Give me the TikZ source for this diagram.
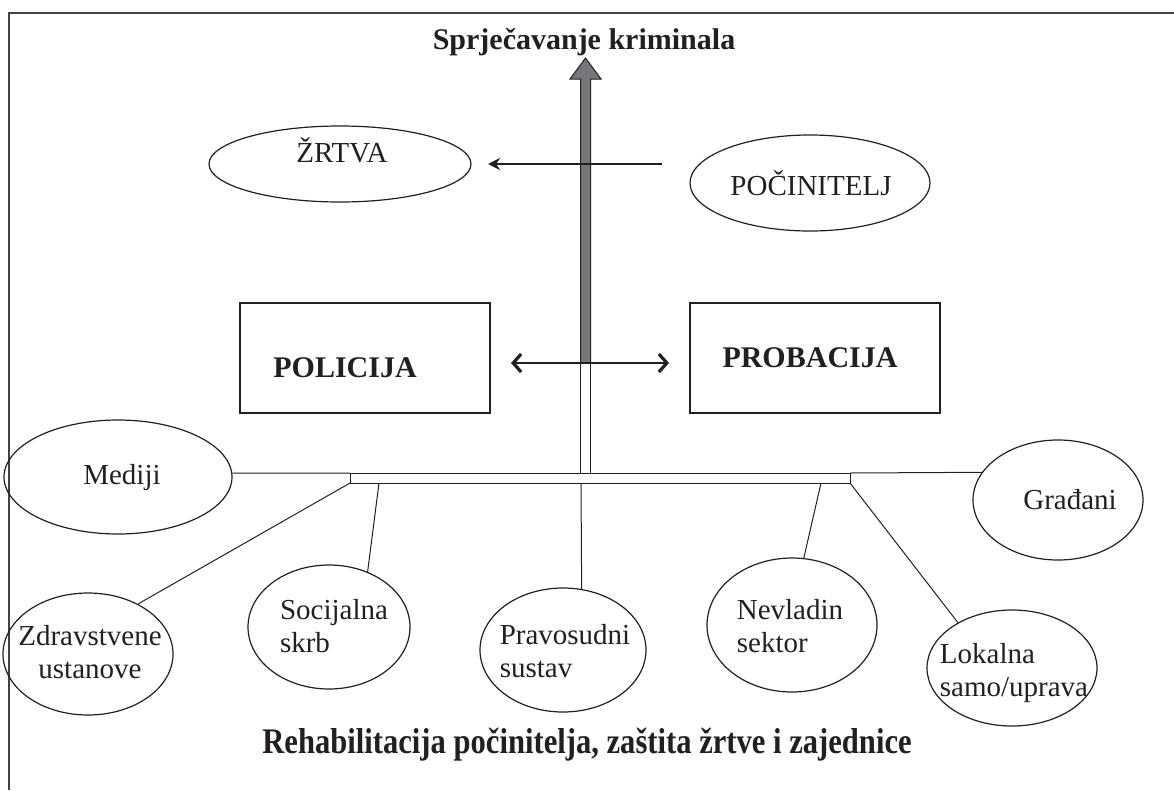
\documentclass[tikz,border=0pt]{standalone}
\usepackage{fontspec}
\setmainfont{Liberation Serif}
\usetikzlibrary{shapes.geometric,arrows.meta}
\definecolor{shaftgray}{RGB}{118,119,123}
\definecolor{ink}{RGB}{35,31,32}
\tikzset{
  ell/.style={draw=ink,line width=1.2pt,ellipse,inner sep=0pt},
  rbox/.style={draw=ink,line width=1.2pt,rectangle,inner sep=0pt},
  lbl/.style={font=\fontsize{29}{33}\selectfont,text=ink,align=left},
  blbl/.style={font=\fontsize{30}{34}\selectfont\bfseries,text=ink},
  conn/.style={draw=ink,line width=1pt},
}
\begin{document}
\begin{tikzpicture}[x=1pt,y=-1pt]
\useasboundingbox (0,0) rectangle (1174,790);
% frame
\draw[draw=ink!85,line width=2pt] (9,790) -- (9,13) -- (1174,13);
% titles
\node[blbl] (top) at (584,42) {Sprječavanje kriminala};
\node[font=\fontsize{36}{40}\selectfont\bfseries,text=ink] (bottom) at (587,745) {\scalebox{0.85}[1]{Rehabilitacija počinitelja, zaštita žrtve i zajednice}};
% ellipses top
\node[ell,minimum width=262pt,minimum height=76pt] (zrtva) at (340,164) {};
\node[lbl] at (342,150) {ŽRTVA};
\node[ell,minimum width=240pt,minimum height=96pt] (pocin) at (810,183) {};
\node[lbl] at (811,183) {POČINITELJ};
% boxes
\node[rbox,minimum width=250pt,minimum height=110pt] (pol) at (365,358) {};
\node[blbl] at (345,368) {POLICIJA};
\node[rbox,minimum width=250pt,minimum height=110pt] (prob) at (815,358) {};
\node[blbl] at (810,358) {PROBACIJA};
% side ellipses
\node[ell,minimum width=228pt,minimum height=114pt] (med) at (118,477) {};
\node[lbl] at (122,478) {Mediji};
\node[ell,minimum width=170pt,minimum height=120pt] (grad) at (1058,500) {};
\node[lbl] at (1070,500) {Građani};
% bottom ellipses
\node[ell,minimum width=170pt,minimum height=122pt] (zdr) at (88,654) {};
\node[lbl,align=center] at (90,652) {Zdravstvene\\ustanove};
\node[ell,minimum width=162pt,minimum height=124pt] (soc) at (329,627) {};
\node[lbl] at (334,626) {Socijalna\\skrb};
\node[ell,minimum width=166pt,minimum height=124pt] (prav) at (563,650) {};
\node[lbl] at (565,651) {Pravosudni\\sustav};
\node[ell,minimum width=170pt,minimum height=134pt] (nev) at (792,625) {};
\node[lbl] at (790,626) {Nevladin\\sektor};
\node[ell,minimum width=170pt,minimum height=116pt] (lok) at (1012,668) {};
\node[lbl] at (1014,673) {Lokalna\\samo/uprava};
% bar and coordinates
\coordinate (barTL) at (350,473);
\coordinate (barTR) at (850,473);
\coordinate (barBR) at (850,483);
\coordinate (barBL) at (350,483);
\draw[conn,fill=white] (barTL) rectangle (barBR);
\draw[conn] (med.2) -- (barTL);
\draw[conn] (barTR) -- (grad.160);
% connectors to bottom ellipses
\coordinate (c2) at (379,483);
\coordinate (c3) at (581,483);
\coordinate (c4) at (821,483);
\draw[conn] (barBL) -- (zdr.45);
\draw[conn] (c2) -- (soc.55);
\draw[conn] (c3) -- (prav.73);
\draw[conn] (c4) -- (nev.80);
\draw[conn] (barBR) -- (lok.140);
% central shaft
\draw[conn,fill=white] (580.5,473) rectangle (590.5,363);
\draw[conn,fill=shaftgray] (580.5,363) -- (580.5,79) -- (570,79) -- (585.5,58) -- (601,79) -- (590.5,79) -- (590.5,363) -- cycle;
% arrows
\coordinate (a1s) at (662,164);
\coordinate (a1e) at (488,164);
\draw[draw=ink,line width=2.6pt,-{Stealth[length=12pt,width=12pt]}] (a1s) -- (a1e);
\coordinate (a2s) at (511,363);
\coordinate (a2e) at (669,363);
\draw[draw=ink,line width=2.6pt,{Straight Barb[length=8pt,width=18pt,line width=3.2pt]}-{Straight Barb[length=8pt,width=18pt,line width=3.2pt]}] (a2s) -- (a2e);
\end{tikzpicture}
\end{document}
